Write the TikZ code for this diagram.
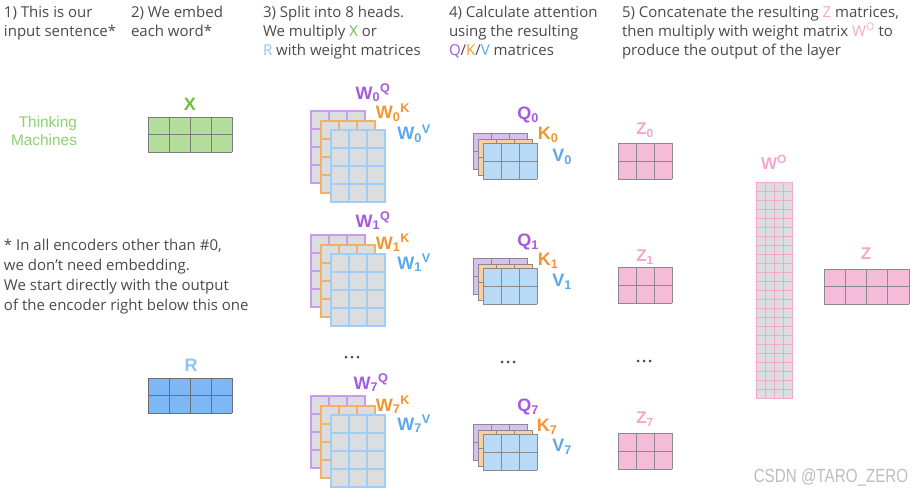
\documentclass[tikz,border=0pt]{standalone}
\usepackage{fontspec}
\setmainfont{Open Sans}
\newfontfamily\labfont{Liberation Sans}
\definecolor{hgray}{HTML}{4A4A4A}
\definecolor{xgreen}{HTML}{6DBE45}
\definecolor{tgreen}{HTML}{8ED16F}
\definecolor{xfill}{HTML}{B4DE9B}
\definecolor{rlab}{HTML}{8EC5F3}
\definecolor{rfill}{HTML}{7DB8F4}
\definecolor{plab}{HTML}{A659DE}
\definecolor{pline}{HTML}{C99DEB}
\definecolor{pfill}{HTML}{D8C0EE}
\definecolor{olab}{HTML}{F2952F}
\definecolor{oline}{HTML}{F6B066}
\definecolor{ofill}{HTML}{F8CFA0}
\definecolor{blab}{HTML}{5AA8EE}
\definecolor{bline}{HTML}{9FCDF6}
\definecolor{bfill}{HTML}{B9DAF7}
\definecolor{cellgray}{HTML}{DCDDDF}
\definecolor{gline}{HTML}{8A8A8A}
\definecolor{zlab}{HTML}{F5A6CB}
\definecolor{zfill}{HTML}{F4BCD8}
\definecolor{zline}{HTML}{F3A8CA}
\definecolor{wmark}{HTML}{BDBDBD}
\newcommand\mgrid[8]{%
 \fill[#7] (#1,#2) rectangle ++({#3*#5},{#4*#6});
 \foreach \i in {0,...,#3} \draw[#8] ({#1+\i*#5},#2) -- ++(0,{#4*#6});
 \foreach \j in {0,...,#4} \draw[#8] (#1,{#2+\j*#6}) -- ++({#3*#5},0);
}
\newcommand\wstack[1]{%
 \mgrid{311}{#1}{3}{4}{18}{18}{cellgray}{pline,line width=1.5pt,line cap=rect}
 \mgrid{321}{#1+10}{3}{4}{18}{18}{cellgray}{oline,line width=1.5pt,line cap=rect}
 \mgrid{331}{#1+19}{3}{4}{18}{18}{cellgray}{bline,line width=1.5pt,line cap=rect}
}
\newcommand\qstack[1]{%
 \mgrid{473}{#1}{3}{2}{18}{18}{pfill}{gline,line width=0.9pt,line cap=rect}
 \mgrid{478}{#1+6}{3}{2}{18}{18}{ofill}{gline,line width=0.9pt,line cap=rect}
 \mgrid{483}{#1+10}{3}{2}{18}{18}{bfill}{gline,line width=0.9pt,line cap=rect}
}
\newcommand\zmat[1]{%
 \mgrid{618}{#1}{3}{2}{18}{18}{zfill}{gline,line width=0.9pt,line cap=rect}
}
\begin{document}
\begin{tikzpicture}[x=1pt,y=-1pt,
  every node/.style={inner sep=0pt,outer sep=0pt},
  head/.style={anchor=base west,align=left,text=hgray,font=\fontsize{15}{19}\selectfont},
  note/.style={anchor=base west,align=left,text=hgray,font=\fontsize{15}{19.8}\selectfont},
  lab/.style={font=\labfont\bfseries\fontsize{18}{18}\selectfont},
  zl/.style={font=\labfont\bfseries\fontsize{17}{17}\selectfont,text=zlab},
  dotc/.style={fill=hgray}]
\useasboundingbox (0,0) rectangle (915,493);

% headers (anchor = baseline of last line)
\node[head] (h1) at (4,36) {1) This is our\\input sentence*};
\node[head] (h2) at (131,36) {2) We embed\\each word*};
\node[head] (h3) at (263,55) {3) Split into 8 heads.\\We multiply \textcolor{xgreen}{X} or\\\textcolor{rlab}{R} with weight matrices};
\node[head] (h4) at (449,55) {4) Calculate attention\\using the resulting\\\textcolor{plab}{Q}/\textcolor{olab}{K}/\textcolor{blab}{V} matrices};
\node[head] (h5) at (622,55) {5) Concatenate the resulting \textcolor{zlab}{Z} matrices,\\then multiply with weight matrix \textcolor{zlab}{W\textsuperscript{O}} to\\produce the output of the layer};

% input sentence
\node[anchor=east,align=right,text=tgreen,font=\labfont\fontsize{15.4}{18}\selectfont] (tm) at (77,131) {Thinking\\Machines};

% X
\node[lab,text=xgreen] (xl) at (190,104) {X};
\mgrid{148}{117}{4}{2}{21}{17.5}{xfill}{gline!90!black,line width=0.9pt,line cap=rect}

% note
\node[note] (nt) at (4,310) {* In all encoders other than \#0,\\we don’t need embedding.\\We start directly with the output\\of the encoder right below this one};

% R
\node[lab,text=rlab] (rl) at (191,365) {R};
\mgrid{148}{378}{4}{2}{21}{17.5}{rfill}{gline!80!black,line width=0.9pt,line cap=rect}

% W stacks
\wstack{111}
\wstack{235}
\wstack{396}
\node[lab,text=plab] (wq0) at (373,93) {W\textsubscript{0}\textsuperscript{Q}};
\node[lab,text=olab] (wk0) at (393,113) {W\textsubscript{0}\textsuperscript{K}};
\node[lab,text=blab] (wv0) at (414,134) {W\textsubscript{0}\textsuperscript{V}};
\node[lab,text=plab] (wq1) at (373,221) {W\textsubscript{1}\textsuperscript{Q}};
\node[lab,text=olab] (wk1) at (393,243) {W\textsubscript{1}\textsuperscript{K}};
\node[lab,text=blab] (wv1) at (414,263) {W\textsubscript{1}\textsuperscript{V}};
\node[lab,text=plab] (wq7) at (371,383) {W\textsubscript{7}\textsuperscript{Q}};
\node[lab,text=olab] (wk7) at (393,405) {W\textsubscript{7}\textsuperscript{K}};
\node[lab,text=blab] (wv7) at (414,424) {W\textsubscript{7}\textsuperscript{V}};

% QKV stacks
\qstack{133}
\qstack{258}
\qstack{424}
\node[lab,text=plab] (q0) at (528,115) {Q\textsubscript{0}};
\node[lab,text=olab] (k0) at (548,135) {K\textsubscript{0}};
\node[lab,text=blab] (v0) at (562,157) {V\textsubscript{0}};
\node[lab,text=plab] (q1) at (528,242) {Q\textsubscript{1}};
\node[lab,text=olab] (k1) at (548,261) {K\textsubscript{1}};
\node[lab,text=blab] (v1) at (562,282) {V\textsubscript{1}};
\node[lab,text=plab] (q7) at (528,407) {Q\textsubscript{7}};
\node[lab,text=olab] (k7) at (547,427) {K\textsubscript{7}};
\node[lab,text=blab] (v7) at (562,447) {V\textsubscript{7}};

% Z matrices
\zmat{143}
\zmat{267}
\zmat{433}
\node[zl] (z0) at (645,130) {Z\textsubscript{0}};
\node[zl] (z1) at (645,257) {Z\textsubscript{1}};
\node[zl] (z7) at (645,419) {Z\textsubscript{7}};

% dots
\foreach \c in {346,352,358} \fill[dotc] (\c,357) circle (1.5);
\foreach \c in {502,508,514} \fill[dotc] (\c,362) circle (1.5);
\foreach \c in {638,644,650} \fill[dotc] (\c,361) circle (1.5);

% W^O
\node[zl] (wo) at (774,162) {W\textsuperscript{O}};
\mgrid{756}{182}{4}{24}{9}{9}{cellgray}{zline,line width=1pt,line cap=rect}

% final Z
\node[zl] (zf) at (866,254) {Z};
\mgrid{824}{269}{4}{2}{21.25}{17.5}{zfill}{gline,line width=0.9pt,line cap=rect}

% watermark
\node[text=wmark,font=\labfont\fontsize{19}{19}\selectfont,xscale=0.8] (wm) at (831,477) {CSDN @TARO\_ZERO};
\end{tikzpicture}
\end{document}
